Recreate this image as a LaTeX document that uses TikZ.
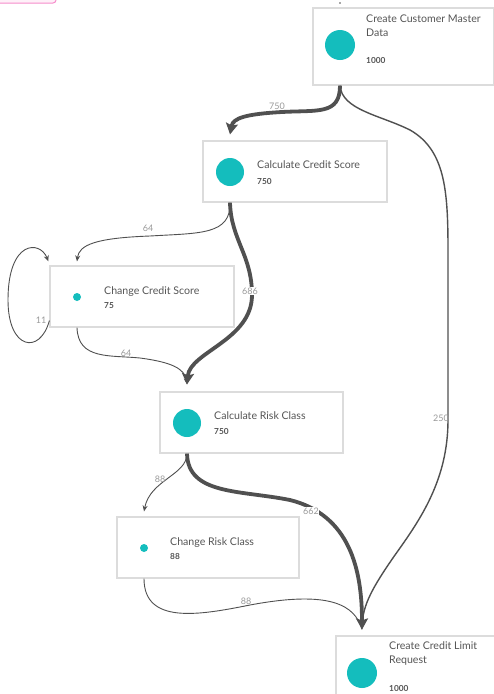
\documentclass[tikz,border=0pt]{standalone}
\usepackage{fontspec}
\setmainfont{Lato}
\usetikzlibrary{arrows.meta,calc}
\definecolor{tealdot}{HTML}{14BDBD}
\definecolor{edgecol}{HTML}{505050}
\definecolor{txtcol}{HTML}{555555}
\definecolor{lblcol}{HTML}{9A9A9A}
\definecolor{boxcol}{HTML}{DCDCDC}
\tikzset{
  actbox/.style={draw=boxcol, line width=1.2pt, fill=white, rectangle, inner sep=0pt},
  bigdot/.style={circle, fill=tealdot, minimum size=30pt, inner sep=0pt},
  smalldot/.style={circle, fill=tealdot, minimum size=8pt, inner sep=0pt},
  acttitle/.style={anchor=base west, inner sep=0pt, text=txtcol, align=left, font=\fontsize{10.6}{13.5}\selectfont},
  actnum/.style={anchor=base west, inner sep=0pt, text=txtcol, font=\fontsize{8.3}{9}\selectfont\bfseries},
  thinedge/.style={draw=edgecol, line width=0.9pt, -{Stealth[length=6pt,width=5pt]}},
  midedge/.style={draw=edgecol, line width=1.8pt, -{Stealth[length=8pt,width=7pt]}},
  fatedge/.style={draw=edgecol, line width=3.8pt, -{Stealth[length=11pt,width=12pt,inset=2pt]}},
  elabel/.style={text=lblcol, inner sep=0.5pt, font=\fontsize{9}{10}\selectfont}
}
\begin{document}
\begin{tikzpicture}[x=1pt,y=-1pt]
\useasboundingbox (0,0) rectangle (494,694);
\clip (0,0) rectangle (494,694);
\fill[white] (0,0) rectangle (494,694);
% pink tab at top left
\draw[draw=magenta!45, fill=magenta!6, line width=1pt, rounded corners=3pt] (-5,-20) rectangle (56,3);
\fill[edgecol] (340,3) circle (0.9);

% boxes
\node[actbox, minimum width=181pt, minimum height=77pt] (a) at (403.5,46.5) {};
\node[actbox, minimum width=184pt, minimum height=61pt] (b) at (295,171.5) {};
\node[actbox, minimum width=184pt, minimum height=61pt] (c) at (142,296.5) {};
\node[actbox, minimum width=183pt, minimum height=61pt] (d) at (251.5,422.5) {};
\node[actbox, minimum width=182pt, minimum height=61pt] (e) at (208,547.5) {};
\node[actbox, minimum width=181pt, minimum height=77pt] (f) at (426.5,674.5) {};

% dots
\node[bigdot] (ac) at (340,45) {};
\node[bigdot, minimum size=28pt] (bc) at (230,172) {};
\node[smalldot] (cc) at (77,297) {};
\node[bigdot, minimum size=28pt] (dc) at (187,423) {};
\node[smalldot] (ec) at (144,548) {};
\node[bigdot] (fc) at (362,673) {};

% texts
\node[acttitle] (at) at (366,36) {Create Customer Master\\Data};
\node[actnum] (an) at (366,63) {1000};
\node[acttitle] (bt) at (257,168) {Calculate Credit Score};
\node[actnum] (bn) at (257,184) {750};
\node[acttitle] (ct) at (104,294) {Change Credit Score};
\node[actnum] (cn) at (104,308) {75};
\node[acttitle] (dt) at (214,419) {Calculate Risk Class};
\node[actnum] (dn) at (214,434) {750};
\node[acttitle] (et) at (170,545) {Change Risk Class};
\node[actnum] (en) at (170,559) {88};
\node[acttitle] (ft) at (389,663) {Create Credit Limit\\Request};
\node[actnum] (fn) at (389,691) {1000};

% anchor coordinates
\coordinate (aout) at (ac |- a.south);
\coordinate (bin) at ([yshift=6pt]bc |- b.north);
\coordinate (bout) at (bc |- b.south);
\coordinate (cin) at ([yshift=4pt]cc |- c.north);
\coordinate (cout) at (cc |- c.south);
\coordinate (cloopout) at ([yshift=7pt]c.south west);
\coordinate (cloopin) at ([xshift=-1pt,yshift=4pt]c.north west);
\coordinate (din) at ([yshift=7pt]dc |- d.north);
\coordinate (dout) at (dc |- d.south);
\coordinate (ein) at ([yshift=5pt]ec |- e.north);
\coordinate (eout) at (ec |- e.south);
\coordinate (fin) at ([yshift=6pt]fc |- f.north);

% edges
\draw[fatedge] (aout) .. controls (340,115) and (318,110) .. (282,112)
   .. controls (246,114) and (233,118) .. (bin);
\node[elabel] (l1) at (277,106) {750};

\draw[midedge, line width=1.4pt] (aout) .. controls (342,110) and (380,115) .. (410,130)
   .. controls (445,150) and (448,190) .. (448,250) -- (448,420)
   .. controls (448,480) and (420,520) .. (395,555)
   .. controls (372,588) and (363,605) .. (fin);
\node[elabel] (l2) at (441,418) {250};

\draw[thinedge] (bout) .. controls (231,235) and (200,233) .. (150,236)
   .. controls (95,238) and (79,245) .. (cin);
\node[elabel] (l3) at (148,228) {64};

\draw[fatedge] (bout) .. controls (231,240) and (252,255) .. (252,295)
   .. controls (252,340) and (190,352) .. (din);
\node[elabel, fill=white] (l4) at (250,291) {686};

\draw[thinedge] (cloopout) .. controls (40,355) and (8,350) .. (8,300)
   .. controls (8,240) and (40,240) .. (cloopin);
\node[elabel] (l5) at (41,320) {11};

\draw[thinedge] (cout) .. controls (78,360) and (110,355) .. (140,358)
   .. controls (170,362) and (185,368) .. (din);
\node[elabel] (l6) at (126,353) {64};

\draw[thinedge] (dout) .. controls (187,475) and (150,480) .. (ein);
\node[elabel] (l7) at (160,479) {88};

\draw[fatedge] (dout) .. controls (188,495) and (240,490) .. (290,500)
   .. controls (350,515) and (362,570) .. (fin);
\node[elabel, fill=white] (l8) at (311,511) {662};

\draw[thinedge, -] (eout) .. controls (144,625) and (200,615) .. (250,605)
   .. controls (330,590) and (355,605) .. (fin);
\node[elabel] (l9) at (246,601) {88};
\end{tikzpicture}
\end{document}
